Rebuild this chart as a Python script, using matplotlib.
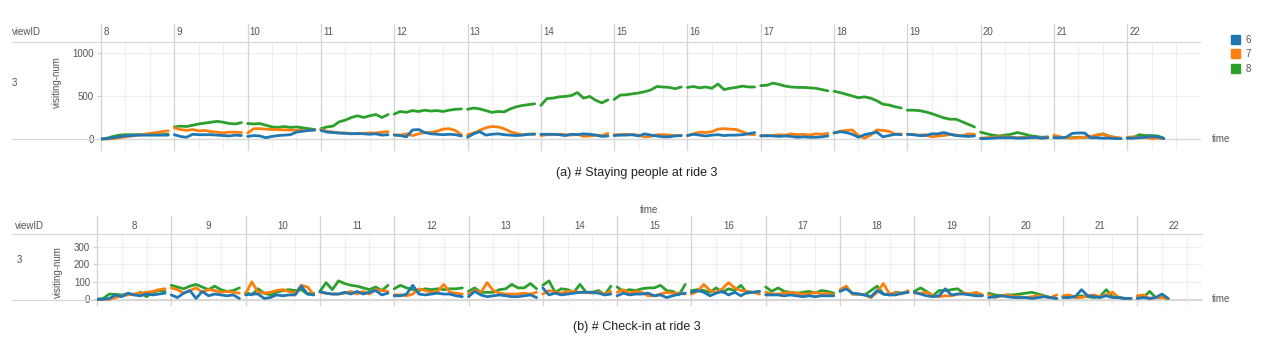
import numpy as np
import matplotlib.pyplot as plt
from matplotlib.patches import Patch
from matplotlib import transforms

plt.rcParams['font.family'] = ['Liberation Sans', 'DejaVu Sans']

hours = list(range(8, 23))
series_names = ['6', '7', '8']
colors = ['#1f77b4', '#ff7f0e', '#2ca02c']
step_min = 5

# (a) staying people, one list per hour (5 minute steps)
stay_6 = [
    [0, 5, 15, 25, 35, 40, 45, 45, 45, 45, 45, 45],
    [50, 30, 20, 55, 50, 50, 50, 45, 40, 35, 45, 40],
    [30, 40, 35, 15, 30, 40, 45, 50, 80, 90, 100, 105],
    [100, 80, 75, 70, 65, 60, 65, 60, 55, 60, 45, 50],
    [45, 40, 25, 105, 110, 75, 60, 55, 50, 55, 50, 35],
    [20, 60, 85, 45, 55, 60, 50, 45, 40, 45, 55, 55],
    [55, 55, 55, 50, 40, 55, 50, 60, 55, 45, 30, 35],
    [40, 45, 45, 50, 35, 60, 45, 35, 25, 25, 35, 40],
    [40, 55, 45, 35, 45, 50, 40, 45, 45, 50, 60, 75],
    [35, 40, 35, 30, 35, 30, 20, 25, 20, 20, 25, 35],
    [70, 85, 75, 55, 20, 50, 65, 80, 25, 40, 55, 50],
    [55, 50, 40, 40, 60, 60, 75, 55, 40, 35, 30, 35],
    [5, 5, 10, 15, 15, 15, 10, 10, 15, 20, 10, 15],
    [15, 15, 20, 65, 70, 70, 15, 15, 10, 10, 5, 5],
    [10, 10, 15, 20, 30, 25, 5],
]
stay_7 = [
    [0, 0, 5, 15, 25, 35, 45, 55, 65, 75, 85, 95],
    [130, 110, 100, 110, 95, 100, 85, 80, 70, 80, 80, 75],
    [70, 120, 120, 115, 110, 110, 105, 105, 100, 100, 100, 105],
    [110, 90, 80, 70, 70, 65, 60, 65, 70, 70, 80, 85],
    [50, 45, 60, 40, 60, 75, 75, 90, 115, 120, 100, 50],
    [50, 70, 100, 130, 145, 140, 120, 85, 65, 50, 55, 60],
    [40, 50, 50, 55, 50, 45, 55, 30, 35, 45, 40, 65],
    [50, 50, 55, 50, 45, 25, 30, 50, 50, 45, 40, 40],
    [40, 60, 80, 75, 85, 115, 120, 115, 110, 85, 55, 50],
    [40, 35, 40, 50, 45, 60, 50, 55, 45, 60, 55, 65],
    [70, 90, 100, 105, 40, 10, 45, 105, 100, 90, 55, 60],
    [55, 50, 45, 50, 25, 35, 40, 55, 45, 35, 60, 55],
    [10, 15, 20, 25, 25, 20, 15, 20, 15, 15, 10, 20],
    [45, 25, 15, 10, 15, 20, 30, 45, 55, 30, 20, 10],
    [20, 25, 15, 20, 5, 10, 5],
]
stay_8 = [
    [0, 10, 30, 45, 50, 50, 50, 50, 50, 50, 50, 55],
    [140, 150, 145, 160, 175, 185, 195, 205, 195, 180, 175, 190],
    [180, 175, 180, 160, 140, 135, 145, 135, 140, 130, 120, 110],
    [120, 140, 150, 200, 220, 250, 270, 250, 270, 285, 250, 285],
    [290, 320, 310, 330, 320, 335, 325, 330, 320, 335, 345, 350],
    [345, 360, 350, 330, 310, 320, 315, 350, 375, 390, 400, 410],
    [390, 470, 475, 490, 495, 505, 540, 475, 495, 450, 420, 455],
    [460, 510, 515, 525, 535, 550, 570, 610, 605, 600, 585, 605],
    [600, 610, 595, 605, 590, 640, 575, 590, 600, 615, 605, 605],
    [620, 625, 650, 635, 615, 605, 600, 600, 595, 590, 575, 560],
    [555, 540, 520, 500, 480, 490, 475, 445, 405, 395, 375, 360],
    [335, 335, 330, 315, 295, 270, 245, 230, 230, 200, 170, 140],
    [80, 60, 45, 35, 45, 55, 75, 60, 40, 30, 20, 25],
    [20, 15, 15, 15, 20, 20, 20, 45, 60, 35, 15, 5],
    [10, 15, 50, 40, 40, 35, 10],
]

# (b) check-in
checkin_6 = [
    [0, 0, 5, 25, 15, 35, 25, 20, 30, 25, 30, 35],
    [25, 10, 35, 50, 5, 45, 20, 30, 25, 20, 25, 5],
    [25, 30, 30, 5, 10, 25, 20, 25, 25, 75, 30, 25],
    [45, 35, 30, 30, 40, 30, 45, 30, 40, 50, 25, 35],
    [20, 20, 30, 80, 30, 25, 30, 35, 30, 30, 20, 15],
    [15, 45, 25, 15, 20, 25, 20, 15, 15, 20, 25, 10],
    [65, 25, 35, 25, 30, 35, 40, 40, 40, 35, 25, 30],
    [20, 35, 25, 30, 30, 35, 20, 25, 10, 20, 30, 35],
    [40, 50, 40, 20, 35, 45, 25, 40, 20, 40, 40, 45],
    [25, 25, 25, 20, 25, 20, 15, 20, 15, 20, 20, 20],
    [45, 60, 35, 30, 25, 15, 50, 30, 25, 25, 35, 40],
    [40, 30, 20, 15, 20, 60, 25, 30, 30, 25, 20, 20],
    [10, 15, 20, 15, 10, 10, 10, 5, 10, 15, 10, 5],
    [10, 10, 15, 55, 20, 15, 10, 20, 10, 10, 5, 5],
    [5, 10, 5, 10, 30, 5],
]
checkin_7 = [
    [0, 0, 0, 10, 20, 25, 30, 35, 40, 45, 55, 60],
    [65, 55, 35, 50, 65, 40, 55, 50, 40, 45, 40, 35],
    [30, 100, 40, 35, 40, 50, 55, 45, 35, 80, 70, 25],
    [40, 35, 30, 30, 35, 45, 30, 45, 30, 55, 50, 45],
    [25, 25, 20, 30, 60, 50, 40, 45, 85, 40, 35, 30],
    [30, 50, 40, 95, 50, 35, 30, 30, 30, 35, 30, 40],
    [30, 50, 40, 35, 45, 45, 40, 40, 35, 40, 30, 45],
    [40, 55, 35, 45, 40, 20, 20, 30, 40, 35, 35, 30],
    [30, 45, 85, 50, 40, 60, 95, 65, 50, 45, 40, 30],
    [40, 30, 30, 35, 40, 35, 30, 30, 40, 30, 35, 25],
    [55, 75, 30, 30, 25, 10, 40, 90, 30, 35, 30, 50],
    [35, 35, 40, 20, 15, 20, 20, 30, 35, 30, 40, 25],
    [25, 10, 20, 25, 15, 15, 10, 15, 20, 15, 10, 25],
    [20, 25, 10, 10, 20, 25, 15, 25, 40, 10, 5, 5],
    [20, 25, 5, 10, 10, 5],
]
checkin_8 = [
    [0, 5, 30, 28, 25, 30, 25, 40, 15, 40, 50, 45],
    [80, 70, 60, 75, 85, 70, 55, 75, 55, 45, 50, 65],
    [40, 25, 60, 35, 25, 40, 50, 55, 50, 55, 30, 35],
    [45, 95, 55, 105, 90, 80, 75, 65, 55, 70, 50, 80],
    [60, 80, 65, 55, 50, 60, 55, 60, 55, 60, 60, 65],
    [45, 65, 40, 40, 40, 55, 60, 85, 65, 65, 90, 60],
    [80, 105, 40, 60, 55, 40, 85, 40, 40, 50, 25, 75],
    [70, 45, 55, 50, 60, 65, 65, 80, 50, 45, 25, 85],
    [50, 55, 50, 40, 65, 40, 60, 50, 80, 35, 40, 45],
    [70, 45, 65, 45, 40, 35, 40, 45, 35, 50, 45, 35],
    [50, 70, 30, 30, 25, 50, 75, 30, 25, 40, 35, 40],
    [45, 65, 45, 20, 50, 50, 55, 60, 35, 30, 35, 25],
    [35, 25, 20, 25, 25, 30, 35, 40, 30, 20, 10, 5],
    [15, 20, 15, 20, 15, 10, 15, 55, 15, 10, 5, 5],
    [15, 10, 45, 10, 10, 5],
]

W, H = 1266, 337
TXT = '#555555'
FACET = '#d4d4d4'
MINOR = '#efefef'


def box(x0, y0, x1, y1):
    return [x0 / W, 1 - y1 / H, (x1 - x0) / W, (y1 - y0) / H]


def px(x, y):
    return x / W, 1 - y / H


def draw_panel(fig, rect, ylim, yticks, xmax, series, head_y, row_y, left_px,
               header_top, centered):
    ax = fig.add_axes(box(*rect))
    x0, y0, x1, y1 = rect
    ax.set_xlim(8, xmax)
    ax.set_ylim(*ylim)
    for s in ax.spines.values():
        s.set_visible(False)
    ax.set_xticks([])
    ax.set_yticks(yticks)
    ax.set_yticklabels([str(t) for t in yticks], fontsize=7, color=TXT)
    ax.tick_params(axis='y', length=3, color='#cccccc', pad=2)
    for t in yticks:
        ax.axhline(t, color=MINOR if t else '#d8d8d8', lw=0.8, zorder=0)

    ext = (y0 - header_top) / (y1 - y0)
    for h in hours:
        ax.axvline(h, ymin=0, ymax=1 + ext, color=FACET, lw=0.9,
                   clip_on=False, zorder=1)
        for f in (1 / 3, 2 / 3):
            ax.axvline(h + f, color=MINOR, lw=0.8, zorder=0)

    # header border and row border
    lx = (left_px - x0) / (x1 - x0)
    ax.plot([lx, 1], [1, 1], transform=ax.transAxes, color='#d8d8d8',
            lw=0.9, clip_on=False)
    rb = (y1 - row_y) / (y1 - y0)
    ax.plot([lx, 1], [rb, rb], transform=ax.transAxes, color='#d8d8d8',
            lw=0.9, clip_on=False)

    hdr = transforms.blended_transform_factory(ax.transData, fig.transFigure)
    for h in hours:
        if centered:
            ax.text(h + 0.5, 1 - head_y / H, str(h), transform=hdr,
                    ha='center', va='center', fontsize=7, color=TXT)
        else:
            ax.text(h + 0.03, 1 - head_y / H, str(h), transform=hdr,
                    ha='left', va='center', fontsize=7, color=TXT)

    # series drawn 8, 7, 6 so blue sits on top
    for name, col, data in reversed(list(zip(series_names, colors, series))):
        for h, vals in zip(hours, data):
            x = h + np.arange(len(vals)) * step_min / 60
            ax.plot(x, vals, color=col, lw=2.0, solid_capstyle='round',
                    solid_joinstyle='round', zorder=3)
    return ax


fig = plt.figure(figsize=(W / 100, H / 100), dpi=100)

# (a)
ax_a = draw_panel(fig, (101, 42, 1200, 150), (-128, 1128), [0, 500, 1000],
                  8 + 1099 / 73.3, [stay_6, stay_7, stay_8], head_y=32,
                  row_y=139, left_px=12, header_top=24, centered=False)
fig.text(*px(12, 32), 'viewID', fontsize=7, color=TXT, va='center')
fig.text(*px(12, 83), '3', fontsize=7, color=TXT, va='center')
fig.text(*px(57, 82), 'visiting-num', fontsize=7, color=TXT, rotation=90,
         ha='center', va='center')
fig.text(*px(1212, 139), 'time', fontsize=7, color=TXT, va='center')
fig.text(*px(637, 173), '(a) # Staying people at ride 3', fontsize=9,
         color='#222222', ha='center', va='center')

# (b)
ax_b = draw_panel(fig, (97, 234, 1202, 305), (-32.5, 372.5),
                  [0, 100, 200, 300], 8 + 1105 / 74.3,
                  [checkin_6, checkin_7, checkin_8], head_y=226, row_y=300,
                  left_px=12, header_top=216, centered=True)
fig.text(*px(649, 210), 'time', fontsize=7, color=TXT, ha='center',
         va='center')
fig.text(*px(15, 226), 'viewID', fontsize=7, color=TXT, va='center')
fig.text(*px(17, 260), '3', fontsize=7, color=TXT, va='center')
fig.text(*px(58, 272), 'visiting-num', fontsize=7, color=TXT, rotation=90,
         ha='center', va='center')
fig.text(*px(1212, 299), 'time', fontsize=7, color=TXT, va='center')
fig.text(*px(637, 327), '(b) # Check-in at ride 3', fontsize=9,
         color='#222222', ha='center', va='center')

handles = [Patch(facecolor=c, edgecolor=c, label=n)
           for n, c in zip(series_names, colors)]
fig.legend(handles=handles, loc='upper left', bbox_to_anchor=px(1222, 26),
           frameon=False, fontsize=7, handlelength=1.0, handleheight=1.0,
           handletextpad=0.5, labelspacing=0.45, labelcolor=TXT)

fig.savefig('out.png', dpi=100)
